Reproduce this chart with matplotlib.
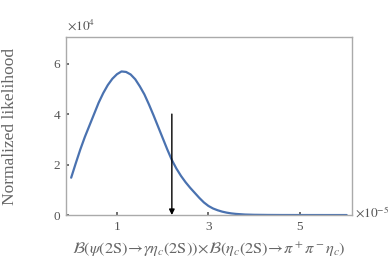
import matplotlib
matplotlib.use("Agg")
import matplotlib.pyplot as plt

x_vals = [0.0, 0.1, 0.2, 0.3, 0.4, 0.5, 0.6, 0.7, 0.8, 0.9, 1.0, 1.1, 1.2, 1.3, 1.4,
          1.5, 1.6, 1.7, 1.8, 1.9, 2.0, 2.1, 2.2, 2.3, 2.4, 2.5, 2.6, 2.7, 2.8, 2.9,
          3.0, 3.1, 3.2, 3.3, 3.4, 3.5, 3.6, 3.8, 4.0, 4.3, 4.6, 5.0, 5.5, 6.02]
y_vals = [1.48, 2.05, 2.6, 3.1, 3.55, 4.0, 4.45, 4.83, 5.15, 5.40, 5.58, 5.69, 5.67, 5.57, 5.38,
          5.10, 4.78, 4.38, 3.95, 3.50, 3.05, 2.60, 2.18, 1.84, 1.55, 1.30, 1.08, 0.88, 0.68, 0.50,
          0.36, 0.26, 0.19, 0.135, 0.095, 0.065, 0.045, 0.02, 0.01, 0.004, 0.0015, 0.0005, 0.0, 0.0]
x_ticks = [1, 3, 5]
y_ticks = [0, 2, 4, 6]
upper_limit = 2.2
arrow_top = 4.0

plt.rcParams['font.family'] = ['Liberation Serif', 'DejaVu Serif']
plt.rcParams['mathtext.fontset'] = 'stix'

fig = plt.figure(figsize=(3.9, 2.75), dpi=100)
ax = fig.add_axes([0.169, 0.218, 0.734, 0.647])
ax.plot(x_vals, y_vals, color='#4a72b0', lw=1.6, solid_capstyle='round', solid_joinstyle='round')
ax.annotate('', xy=(upper_limit, 0), xytext=(upper_limit, arrow_top),
            arrowprops=dict(arrowstyle='-|>', color='black', lw=1.0,
                            mutation_scale=8, shrinkA=0, shrinkB=0))
ax.set_xlim(-0.115, 6.14)
ax.set_ylim(0, 7.05)
ax.set_xticks(x_ticks)
ax.set_yticks(y_ticks)
ax.tick_params(direction='in', length=2.5, width=1.2, color='#555555',
               labelcolor='#555555', labelsize=9.5, pad=4)
for s in ax.spines.values():
    s.set_color('#aaaaaa')
    s.set_linewidth(1.0)
ax.set_ylabel('Normalized likelihood', fontsize=12.5, color='#666666')
ax.yaxis.set_label_coords(-0.168, 0.5)
ax.set_xlabel(r'$\mathcal{B}(\psi(2\mathrm{S})\!\rightarrow\!\gamma\eta_c(2\mathrm{S}))\!\times\!\mathcal{B}(\eta_c(2\mathrm{S})\!\rightarrow\!\pi^+\pi^-\eta_c)$',
              fontsize=11.8, color='#666666', labelpad=6)
fig.text(0.172, 0.88, r'$\times 10^4$', fontsize=9.5, color='#555555', ha='left', va='bottom')
fig.text(0.91, 0.225, r'$\times 10^{-5}$', fontsize=9.5, color='#555555', ha='left', va='center')
fig.savefig('out.png', dpi=100)
